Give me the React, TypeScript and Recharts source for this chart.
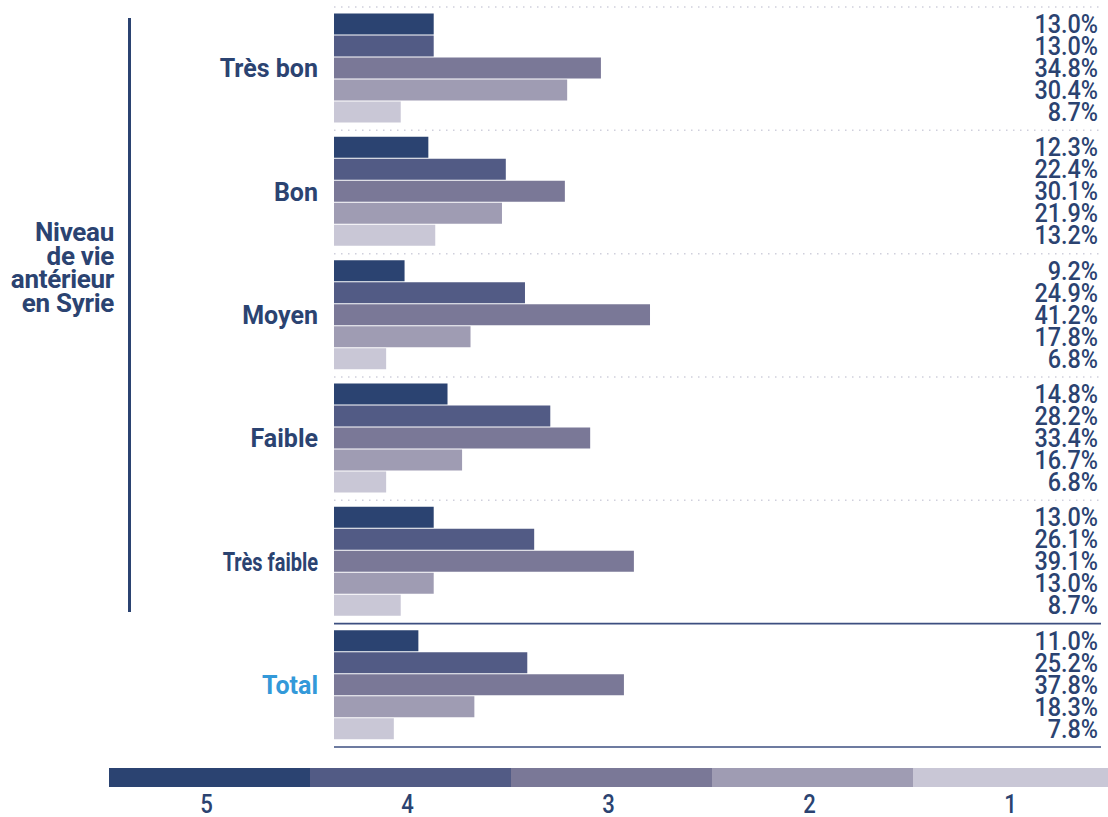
import { Bar, BarChart, LabelList, XAxis, YAxis } from "recharts";

// categories, top to bottom
const levels = ["Très bon", "Bon", "Moyen", "Faible", "Très faible", "Total"];

// share of answers per score, in %
const score5 = [13.0, 12.3, 9.2, 14.8, 13.0, 11.0];
const score4 = [13.0, 22.4, 24.9, 28.2, 26.1, 25.2];
const score3 = [34.8, 30.1, 41.2, 33.4, 39.1, 37.8];
const score2 = [30.4, 21.9, 17.8, 16.7, 13.0, 18.3];
const score1 = [8.7, 13.2, 6.8, 6.8, 8.7, 7.8];

const scoreLabels = ["5", "4", "3", "2", "1"];
const scoreColors = ["#2b4371", "#525b85", "#7a7897", "#9f9cb3", "#c9c7d6"];

const titleLines = ["Niveau", "de vie", "antérieur", "en Syrie"];

const data = levels.map((name, i) => ({
  name,
  s5: score5[i],
  s4: score4[i],
  s3: score3[i],
  s2: score2[i],
  s1: score1[i],
}));
const seriesKeys = ["s5", "s4", "s3", "s2", "s1"];

const W = 1108;
const H = 817;
const TOP = 7;
const BOTTOM = 747;
const PLOT_LEFT = 334;
const PLOT_RIGHT = 1101;
const BAND = (BOTTOM - TOP) / levels.length;

const NAVY = "#2b4371";
const TOTAL_BLUE = "#3399d9";
const FONT = "Roboto, 'Noto Sans', sans-serif";

// category label plus the separator rule above (and below, for Total) each band
const LevelTick = (props: any) => {
  const { y, payload } = props;
  const label: string = payload.value;
  const isTotal = label === "Total";
  const bandTop = y - BAND / 2;
  const condensed = label === "Très faible";
  return (
    <g>
      {isTotal ? (
        <>
          <line x1={PLOT_LEFT} x2={PLOT_RIGHT} y1={bandTop} y2={bandTop} stroke="#3d4f80" strokeWidth={1.6} />
          <line x1={PLOT_LEFT} x2={PLOT_RIGHT} y1={bandTop + BAND} y2={bandTop + BAND} stroke="#3d4f80" strokeWidth={1.6} />
        </>
      ) : (
        <line
          x1={PLOT_LEFT}
          x2={PLOT_RIGHT}
          y1={bandTop}
          y2={bandTop}
          stroke="#cfcfdc"
          strokeWidth={1.5}
          strokeDasharray="1.5 5.5"
        />
      )}
      <g transform={`translate(318, ${y + 8.5}) scale(${condensed ? 0.8 : 1}, 1)`}>
        <text
          x={0}
          y={0}
          textAnchor="end"
          fill={isTotal ? TOTAL_BLUE : NAVY}
          fontFamily={FONT}
          fontWeight={700}
          fontSize={25}
        >
          {label}
        </text>
      </g>
    </g>
  );
};

// percentage printed at the right edge, level with its bar
const ValueLabel = (props: any) => {
  const { y, height, value } = props;
  return (
    <g transform={`translate(${PLOT_RIGHT - 3}, ${y + height / 2 + 9}) scale(0.9, 1)`}>
      <text x={0} y={0} textAnchor="end" fill={NAVY} fontFamily={FONT} fontWeight={500} fontSize={26}>
        {value.toFixed(1)}%
      </text>
    </g>
  );
};

export default function App() {
  return (
    <div style={{ position: "absolute", left: 0, top: 0, width: W, height: H, overflow: "hidden", background: "#fff" }}>
      <BarChart
        width={W}
        height={H}
        data={data}
        layout="vertical"
        margin={{ top: TOP, right: W - PLOT_RIGHT, bottom: H - BOTTOM, left: 0 }}
        barCategoryGap={6.5}
        barGap={1}
      >
        <XAxis type="number" domain={[0, 100]} hide />
        <YAxis
          type="category"
          dataKey="name"
          width={PLOT_LEFT}
          axisLine={false}
          tickLine={false}
          interval={0}
          tick={<LevelTick />}
        />
        {seriesKeys.map((key, i) => (
          <Bar key={key} dataKey={key} name={scoreLabels[i]} fill={scoreColors[i]} isAnimationActive={false}>
            <LabelList dataKey={key} content={<ValueLabel />} />
          </Bar>
        ))}
      </BarChart>

      {/* axis title with its bracket rule */}
      <div
        style={{
          position: "absolute",
          right: W - 114,
          top: 221,
          textAlign: "right",
          color: NAVY,
          fontFamily: FONT,
          fontWeight: 700,
          fontSize: 26,
          lineHeight: "23.5px",
          letterSpacing: -0.3,
        }}
      >
        {titleLines.map((t) => (
          <div key={t}>{t}</div>
        ))}
      </div>
      <div style={{ position: "absolute", left: 128, top: 18, width: 3, height: 594, background: NAVY }} />

      {/* score legend */}
      <div style={{ position: "absolute", left: 109, top: 768, display: "flex" }}>
        {scoreLabels.map((s, i) => (
          <div key={s} style={{ width: 201 }}>
            <div style={{ height: 19, background: scoreColors[i] }} />
            <div
              style={{
                paddingTop: 4,
                textAlign: "center",
                color: NAVY,
                fontFamily: FONT,
                fontWeight: 500,
                fontSize: 26,
                lineHeight: "26px",
                transform: "translateX(-3px) scaleX(0.85)",
              }}
            >
              {s}
            </div>
          </div>
        ))}
      </div>
    </div>
  );
}
